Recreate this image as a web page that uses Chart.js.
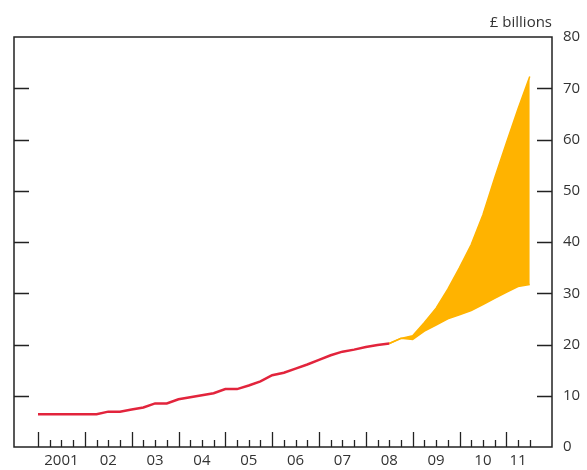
<!DOCTYPE html>
<html>
<head>
<meta charset="utf-8">
<script src="https://cdn.jsdelivr.net/npm/chart.js@4.4.1/dist/chart.umd.min.js"></script>
<style>
html,body{margin:0;padding:0;background:#fff;}
#wrap{width:587px;height:470px;}
</style>
</head>
<body>
<div id="wrap"><canvas id="c" width="587" height="470"></canvas></div>
<script>
// Year labels (placed mid-year on the quarterly axis)
const yearLabels = ['2001','02','03','04','05','06','07','08','09','10','11'];
const yearLabelPos = [2, 6, 10, 14, 18, 22, 26, 30, 34, 38, 41];
// Quarterly index 0 = 2001 Q1
const debtStart = 0;
const debt = [6.4, 6.4, 6.4, 6.4, 6.4, 6.4, 6.9, 6.9, 7.3, 7.7, 8.5, 8.5, 9.3, 9.7, 10.1, 10.5,
              11.3, 11.3, 12.0, 12.8, 14.0, 14.5, 15.3, 16.1, 17.0, 17.9, 18.6, 19.0, 19.5, 19.9, 20.2];
const bandStart = 30;
const bandLow  = [20.2, 21.2, 21.0, 22.6, 23.8, 25.0, 25.8, 26.6, 27.8, 29.0, 30.2, 31.3, 31.7];
const bandHigh = [20.2, 21.2, 21.7, 24.3, 27.1, 30.8, 35.0, 39.5, 45.3, 52.5, 59.3, 66.0, 72.3];
const yTicks = [0, 10, 20, 30, 40, 50, 60, 70, 80];
const lastQuarter = 42;

const RED = '#E2243C';
const ORANGE = '#FFB300';
const FONT = '"Open Sans", "DejaVu Sans", sans-serif';

const toPts = (arr, start) => arr.map((v, i) => ({x: start + i, y: v}));

const framePlugin = {
  id: 'frame',
  afterDatasetsDraw(chart) {
    const {ctx, chartArea: a, scales: {x, y}} = chart;
    ctx.save();
    ctx.strokeStyle = '#222';
    ctx.lineWidth = 1.5;
    ctx.strokeRect(a.left, a.top, a.right - a.left, a.bottom - a.top);
    ctx.lineWidth = 1.3;
    ctx.beginPath();
    yTicks.forEach(t => {
      if (t === 0 || t === 80) return;
      const py = Math.round(y.getPixelForValue(t)) + 0.5;
      ctx.moveTo(a.left, py); ctx.lineTo(a.left + 15, py);
      ctx.moveTo(a.right - 15, py); ctx.lineTo(a.right, py);
    });
    for (let q = 0; q <= lastQuarter; q++) {
      const px = Math.round(x.getPixelForValue(q)) + 0.5;
      const len = q % 4 === 0 ? 15 : 7;
      ctx.moveTo(px, a.bottom); ctx.lineTo(px, a.bottom - len);
    }
    ctx.stroke();
    ctx.fillStyle = '#333';
    ctx.font = '15px ' + FONT;
    ctx.textAlign = 'right';
    ctx.textBaseline = 'middle';
    ctx.fillText('£ billions', a.right, 23);
    ctx.restore();
  }
};

new Chart(document.getElementById('c'), {
  type: 'line',
  data: {
    datasets: [
      {data: toPts(debt, debtStart), borderColor: RED, borderWidth: 2.5, pointRadius: 0, fill: false, order: 1},
      {data: toPts(bandLow, bandStart), borderColor: ORANGE, borderWidth: 1.5, pointRadius: 0, fill: false, order: 2},
      {data: toPts(bandHigh, bandStart), borderColor: ORANGE, borderWidth: 1.5, pointRadius: 0,
       fill: '-1', backgroundColor: ORANGE, order: 2}
    ]
  },
  options: {
    responsive: false,
    animation: false,
    devicePixelRatio: 1,
    layout: {padding: {left: 14, top: 37, right: 0, bottom: 0}},
    plugins: {legend: {display: false}, tooltip: {enabled: false}},
    elements: {line: {tension: 0}},
    scales: {
      x: {
        type: 'linear', min: -2.05, max: 43.9,
        grid: {display: false, drawTicks: false},
        border: {display: false},
        afterBuildTicks(scale) { scale.ticks = yearLabelPos.map(v => ({value: v})); },
        afterFit(scale) { scale.height = 23; },
        ticks: {
          autoSkip: false, maxRotation: 0, padding: 5, color: '#333',
          font: {family: FONT, size: 15},
          callback(v) { const i = yearLabelPos.indexOf(v); return i >= 0 ? yearLabels[i] : ''; }
        }
      },
      y: {
        position: 'right', min: 0, max: 80,
        grid: {display: false, drawTicks: false},
        border: {display: false},
        afterBuildTicks(scale) { scale.ticks = yTicks.map(v => ({value: v})); },
        afterFit(scale) { scale.width = 35; },
        ticks: {padding: 11, color: '#333', font: {family: FONT, size: 15}}
      }
    }
  },
  plugins: [framePlugin]
});
</script>
</body>
</html>
